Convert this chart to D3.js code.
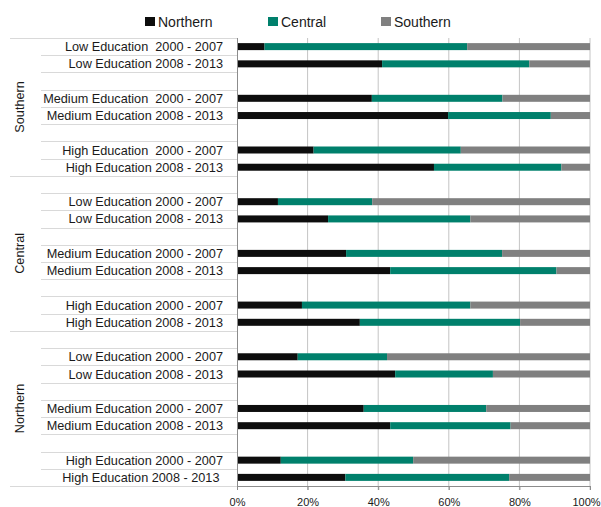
<!DOCTYPE html>
<html>
<head>
<meta charset="utf-8">
<script src="https://cdn.jsdelivr.net/npm/d3@7"></script>
<style>
  body { margin: 0; background: #fff; }
  text { font-family: "Liberation Sans", Arial, sans-serif; fill: #1a1a1a; }
  .row-label { white-space: pre; }
</style>
</head>
<body>
<div id="chart"></div>
<script>
// series order (stack order left -> right)
const series = ['Northern', 'Central', 'Southern']
const colors = ['#0d0d0d', '#00806c', '#808080']

// outer category (region of residence), top -> bottom
const groups = ['Southern', 'Central', 'Northern']

// inner labels per group (first group uses a double space, as in the source)
const rowLabels = [
  ['Low Education  2000 - 2007', 'Low Education 2008 - 2013', 'Medium Education  2000 - 2007', 'Medium Education 2008 - 2013', 'High Education  2000 - 2007', 'High Education 2008 - 2013'],
  ['Low Education 2000 - 2007', 'Low Education 2008 - 2013', 'Medium Education 2000 - 2007', 'Medium Education 2008 - 2013', 'High Education 2000 - 2007', 'High Education 2008 - 2013'],
  ['Low Education 2000 - 2007', 'Low Education 2008 - 2013', 'Medium Education 2000 - 2007', 'Medium Education 2008 - 2013', 'High Education 2000 - 2007', 'High Education 2008 - 2013 ']
]

// shares (%) per row, same order as rowLabels
const northernShare = [
  [7.8, 41.1, 38.2, 59.8, 21.7, 55.8],
  [11.6, 25.8, 30.9, 43.4, 18.4, 34.8],
  [17.2, 44.8, 35.9, 43.4, 12.4, 30.7]
]
const centralShare = [
  [57.4, 41.7, 37.0, 29.1, 41.7, 36.1],
  [26.7, 40.3, 44.2, 47.1, 47.7, 45.4],
  [25.3, 27.7, 34.7, 34.1, 37.5, 46.4]
]
const southernShare = [
  [34.8, 17.2, 24.8, 11.1, 36.6, 8.1],
  [61.7, 33.9, 24.9, 9.5, 33.9, 19.8],
  [57.5, 27.5, 29.4, 22.5, 50.1, 22.9]
]

const xTicks = [0, 20, 40, 60, 80, 100]

// build the slot list (blank slots between education levels and groups)
let slots = []
groups.forEach((g, gi) => {
  let start = slots.length
  if (gi > 0) slots.push({ id: g + '-b0', blank: true })
  rowLabels[gi].forEach((lab, ri) => {
    if (ri > 0 && ri % 2 == 0) slots.push({ id: g + '-b' + ri, blank: true })
    slots.push({
      id: g + '-' + ri, label: lab, blank: false,
      values: [northernShare[gi][ri], centralShare[gi][ri], southernShare[gi][ri]]
    })
  })
  groups[gi] = { name: g, start: start, end: slots.length }
})

const width = 601, height = 507
const plot = { left: 237, right: 590, top: 38, bottom: 486 }

const svg = d3.select('#chart').append('svg')
  .attr('width', width)
  .attr('height', height)

const x = d3.scaleLinear().domain([0, 100]).range([plot.left, plot.right])
const y = d3.scaleBand().domain(slots.map(d => d.id)).range([plot.top, plot.bottom]).padding(0)
const step = y.step()
const barH = 7

// vertical gridlines
svg.append('g').selectAll('line').data(xTicks.slice(1))
  .enter().append('line')
  .attr('x1', d => x(d)).attr('x2', d => x(d))
  .attr('y1', plot.top).attr('y2', plot.bottom + 4)
  .attr('stroke', '#c4c4c4').attr('stroke-width', 1)

// separator lines in the category axis
let boundaries = d3.range(slots.length + 1).map(i => plot.top + i * step)
let groupEdges = new Set()
groups.forEach(g => { groupEdges.add(g.start); groupEdges.add(g.end) })
svg.append('g').selectAll('line').data(boundaries)
  .enter().append('line')
  .attr('x1', (d, i) => groupEdges.has(i) ? 10 : 41)
  .attr('x2', plot.left)
  .attr('y1', d => Math.round(d) + 0.5).attr('y2', d => Math.round(d) + 0.5)
  .attr('stroke', '#d9d9d9').attr('stroke-width', 1)

// stacked bars
let rows = slots.filter(d => !d.blank)
let stacked = rows.map(r => {
  let acc = 0
  return r.values.map((v, si) => {
    let seg = { id: r.id, x0: acc, x1: acc + v, s: si }
    acc += v
    return seg
  })
}).flat()

svg.append('g').selectAll('rect').data(stacked)
  .enter().append('rect')
  .attr('x', d => x(d.x0))
  .attr('width', d => x(d.x1) - x(d.x0))
  .attr('y', d => y(d.id) + step / 2 - barH / 2)
  .attr('height', barH)
  .attr('fill', d => colors[d.s])

// value axis
let xAxis = svg.append('g')
  .attr('transform', 'translate(0,' + plot.bottom + ')')
  .call(d3.axisBottom(x).tickValues(xTicks).tickFormat(d => d + '%').tickSizeInner(4).tickSizeOuter(0).tickPadding(8))
xAxis.select('.domain').attr('stroke', '#8c8c8c')
xAxis.selectAll('.tick line').attr('stroke', '#8c8c8c')
xAxis.selectAll('text').attr('font-size', 11).attr('fill', '#1a1a1a')
  .style('font-family', '"Liberation Sans", Arial, sans-serif')
  .attr('dx', d => d == 100 ? -4 : 0)  // keep the last label inside the frame

// category axis line
svg.append('line')
  .attr('x1', plot.left + 0.5).attr('x2', plot.left + 0.5)
  .attr('y1', plot.top).attr('y2', plot.bottom)
  .attr('stroke', '#8c8c8c')

// row labels
svg.append('g').selectAll('text').data(rows)
  .enter().append('text')
  .attr('class', 'row-label')
  .attr('x', 223)
  .attr('y', d => y(d.id) + step / 2)
  .attr('dy', '0.36em')
  .attr('text-anchor', 'end')
  .attr('font-size', 12.7)
  .text(d => d.label)

// group labels
svg.append('g').selectAll('text').data(groups)
  .enter().append('text')
  .attr('transform', d => 'translate(19,' + (plot.top + (d.start + d.end) / 2 * step) + ') rotate(-90)')
  .attr('dy', '0.36em')
  .attr('text-anchor', 'middle')
  .attr('font-size', 12.7)
  .text(d => d.name)

// legend
let legendX = [145, 268, 381]
let legend = svg.append('g').selectAll('g').data(series)
  .enter().append('g')
  .attr('transform', (d, i) => 'translate(' + legendX[i] + ',17)')
legend.append('rect')
  .attr('width', 10).attr('height', 9)
  .attr('fill', (d, i) => colors[i])
legend.append('text')
  .attr('x', 13).attr('y', 9.5)
  .attr('font-size', 14)
  .text(d => d)
</script>
</body>
</html>
